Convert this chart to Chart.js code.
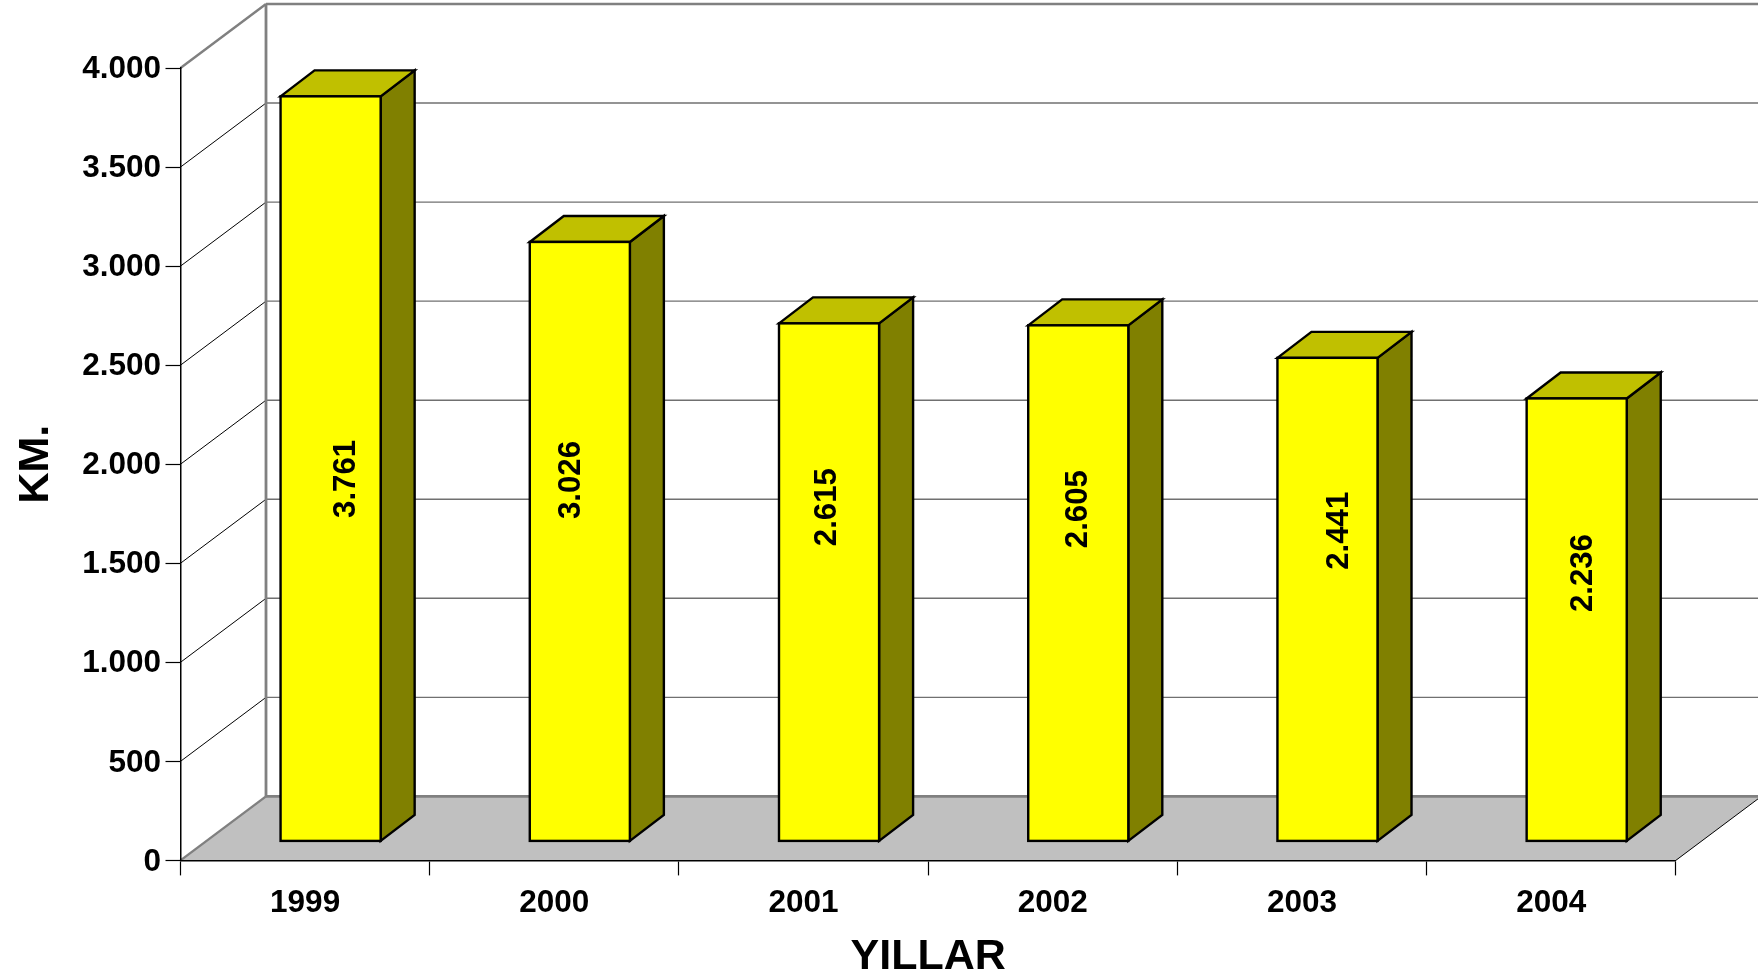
<!DOCTYPE html>
<html>
<head>
<meta charset="utf-8">
<style>html,body{margin:0;padding:0;background:#fff}#w{width:1758px;height:978px}</style>
<script src="https://cdn.jsdelivr.net/npm/chart.js@4"></script>
</head>
<body>
<div id="w"><canvas id="c" width="1758" height="978"></canvas></div>
<script>
const categories = ['1999','2000','2001','2002','2003','2004'];
const kilometres = [3761,3026,2615,2605,2441,2236];
const valueLabels = ['3.761','3.026','2.615','2.605','2.441','2.236'];
const yTickLabels = ['0','500','1.000','1.500','2.000','2.500','3.000','3.500','4.000'];
const xTitle = 'YILLAR';
const yTitle = 'KM.';

const labelNudgeX = [15.9,-8.1,-1.6,-0.1,12.4,6.4];
const labelNudgeY = [10.3,-61.4,-75,-74,-68.6,-46.6];
const FONT = '"Liberation Sans", Arial, sans-serif';
const WALL = {dx:85.5, dy:-64};
const BAR_SHIFT = {dx:25.5, dy:-19};
const BAR_DEPTH = {dx:34, dy:-26};
const GREY = '#808080';
const EDGE = 2.4;

function line(ctx,x1,y1,x2,y2,color,w){
  ctx.beginPath();ctx.moveTo(x1,y1);ctx.lineTo(x2,y2);
  ctx.strokeStyle=color;ctx.lineWidth=w;ctx.stroke();
}
function poly(ctx,pts,fill){
  ctx.beginPath();
  pts.forEach((p,i)=>i?ctx.lineTo(p[0],p[1]):ctx.moveTo(p[0],p[1]));
  ctx.closePath();
  ctx.fillStyle=fill;ctx.fill();
  ctx.strokeStyle='#000';ctx.lineWidth=EDGE;ctx.lineJoin='miter';ctx.stroke();
}

const box3d = {
  id:'box3d',
  beforeDraw(chart){
    const {ctx,chartArea:a,scales:{y}}=chart;
    const bx=a.left+WALL.dx, by=a.bottom+WALL.dy, ty=a.top+WALL.dy, rx=a.right+WALL.dx;
    ctx.save();
    ctx.fillStyle='#fff';ctx.fillRect(0,0,chart.width,chart.height);
    ctx.beginPath();ctx.moveTo(a.left,a.bottom);ctx.lineTo(bx,by);ctx.lineTo(rx,by);ctx.lineTo(a.right,a.bottom);ctx.closePath();
    ctx.fillStyle='#C0C0C0';ctx.fill();
    y.ticks.forEach(t=>{
      const py=y.getPixelForValue(t.value);
      if(t.value===0||t.value===4000)return;
      line(ctx,a.left,py,bx,py+WALL.dy,'#000',1);
      line(ctx,bx,py+WALL.dy,chart.width,py+WALL.dy,'#707070',1.4);
    });
    line(ctx,a.left,a.top,bx,ty,GREY,2.4);
    line(ctx,a.left,a.bottom,bx,by,GREY,2.4);
    line(ctx,bx,ty,bx,by,GREY,2.8);
    line(ctx,bx,ty,chart.width,ty,GREY,2.6);
    line(ctx,bx,by,chart.width,by,GREY,2.6);
    line(ctx,a.right,a.bottom,rx,by,'#000',1);
    ctx.restore();
  },
  beforeDatasetDraw(chart,args){
    const ctx=chart.ctx;
    ctx.save();
    ctx.translate(BAR_SHIFT.dx,BAR_SHIFT.dy);
    args.meta.data.forEach(b=>{
      const l=b.x-b.width/2, r=b.x+b.width/2, t=b.y, bot=b.base;
      poly(ctx,[[r,t],[r+BAR_DEPTH.dx,t+BAR_DEPTH.dy],[r+BAR_DEPTH.dx,bot+BAR_DEPTH.dy],[r,bot]],'#808000');
      poly(ctx,[[l,t],[l+BAR_DEPTH.dx,t+BAR_DEPTH.dy],[r+BAR_DEPTH.dx,t+BAR_DEPTH.dy],[r,t]],'#C0C000');
    });
  },
  afterDatasetDraw(chart,args){
    const ctx=chart.ctx;
    args.meta.data.forEach(b=>{
      ctx.strokeStyle='#000';ctx.lineWidth=EDGE;
      ctx.strokeRect(b.x-b.width/2,b.y,b.width,b.base-b.y);
    });
    ctx.restore();
    args.meta.data.forEach((b,i)=>{
      const cx=b.x+BAR_SHIFT.dx+labelNudgeX[i];
      const cy=(b.y+b.base)/2+BAR_SHIFT.dy+labelNudgeY[i];
      ctx.save();
      ctx.translate(cx,cy);
      ctx.rotate(-Math.PI/2);
      ctx.font='bold 31.2px '+FONT;
      ctx.fillStyle='#000';
      ctx.textAlign='center';
      ctx.textBaseline='middle';
      ctx.fillText(valueLabels[i],0,0);
      ctx.restore();
    });
  }
};

new Chart(document.getElementById('c'),{
  type:'bar',
  data:{labels:categories,datasets:[{
    data:kilometres,
    backgroundColor:'#FFFF00',
    borderWidth:0,
    barPercentage:100/249,
    categoryPercentage:1,
    clip:false
  }]},
  plugins:[box3d],
  options:{
    responsive:false,
    animation:false,
    events:[],
    layout:{padding:{left:0,top:68,right:82.2,bottom:0}},
    plugins:{legend:{display:false},title:{display:false},tooltip:{enabled:false}},
    scales:{
      x:{
        afterFit(s){s.height=117.6;},
        grid:{drawOnChartArea:false,drawTicks:true,tickLength:15,tickColor:'#000',tickWidth:1.2,offset:true},
        border:{display:true,color:'#000',width:1.5},
        ticks:{color:'#000',font:{family:FONT,weight:'bold',size:31.5},padding:9,maxRotation:0,autoSkip:false},
        title:{display:true,text:xTitle,color:'#000',font:{family:FONT,weight:'bold',size:43,lineHeight:0.95},padding:0}
      },
      y:{
        min:0,max:4000,
        afterFit(s){s.width=180.5;},
        grid:{drawOnChartArea:false,drawTicks:true,tickLength:15,tickColor:'#000',tickWidth:1.2},
        border:{display:true,color:'#000',width:1.5},
        ticks:{stepSize:500,color:'#000',font:{family:FONT,weight:'bold',size:31.5},padding:4.5,labelOffset:1.5,
          callback(v){return yTickLabels[v/500];}},
        title:{display:true,text:yTitle,color:'#000',font:{family:FONT,weight:'bold',size:43},padding:{top:10,bottom:0}}
      }
    }
  }
});
</script>
</body>
</html>
